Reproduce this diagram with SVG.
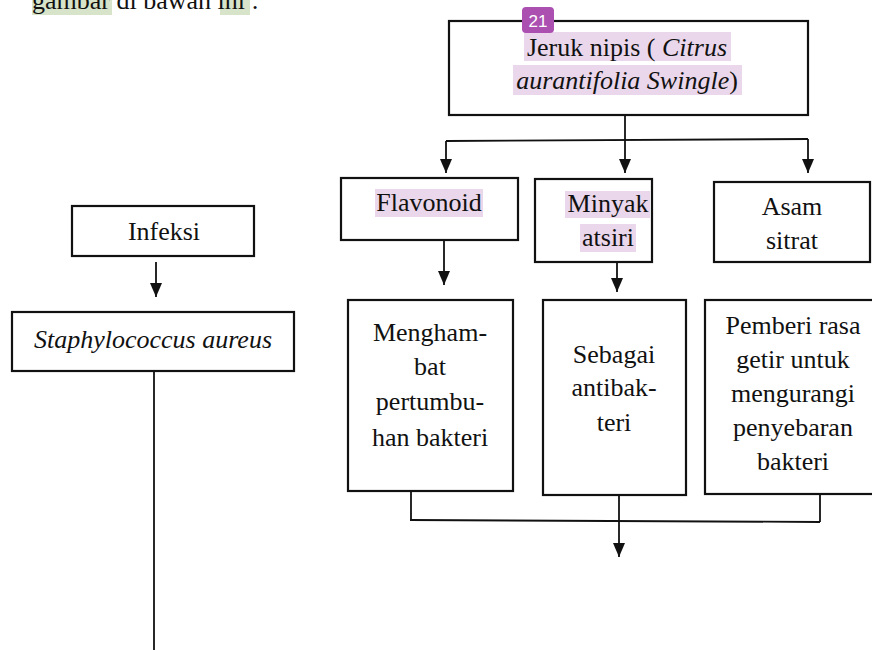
<svg xmlns="http://www.w3.org/2000/svg" width="872" height="650" viewBox="0 0 872 650" font-family="'Liberation Serif', 'Times New Roman', Times, serif">
<style>
text{font-family:"Liberation Serif","Times New Roman",Times,serif;font-size:26px;fill:#111;}
.c{text-anchor:middle}
.it{font-style:italic}
.box{fill:#fff;stroke:#111;stroke-width:2.2}
.ln{fill:none;stroke:#111;stroke-width:1.8}
.hp{fill:#ead7eb}
.hg{fill:#d8e4c9}
</style>
<defs>
<marker id="ah" markerWidth="14" markerHeight="12" refX="14" refY="6" orient="auto" markerUnits="userSpaceOnUse" viewBox="0 0 14 12">
<path d="M0,0 L14,6 L0,12 Z" fill="#111"/>
</marker>
</defs>
<g id="intro">
<rect class="hg" x="32" y="0" width="80" height="15"/>
<rect class="hg" x="220" y="0" width="30" height="15"/>
<text x="32" y="9" font-family="'Liberation Serif', serif">gambar di bawah ini :</text>
</g>
<g id="connectors">
<line class="ln" x1="625" y1="115" x2="625" y2="140"/>
<line class="ln" x1="446" y1="141" x2="808" y2="139"/>
<line class="ln" x1="446" y1="141" x2="446" y2="173" marker-end="url(#ah)"/>
<line class="ln" x1="625" y1="140" x2="625" y2="173" marker-end="url(#ah)"/>
<line class="ln" x1="808" y1="139" x2="808" y2="173" marker-end="url(#ah)"/>
<line class="ln" x1="444" y1="240" x2="444" y2="285" marker-end="url(#ah)"/>
<line class="ln" x1="617" y1="262" x2="617" y2="292" marker-end="url(#ah)"/>
<line class="ln" x1="156" y1="262" x2="156" y2="297" marker-end="url(#ah)"/>
<line class="ln" x1="154" y1="371" x2="154" y2="650"/>
<line class="ln" x1="411" y1="491" x2="411" y2="520"/>
<line class="ln" x1="410" y1="520" x2="820" y2="522"/>
<line class="ln" x1="820" y1="494" x2="820" y2="522"/>
<line class="ln" x1="619" y1="495" x2="619" y2="557" marker-end="url(#ah)"/>
</g>
<g id="jeruk">
<rect class="box" x="449" y="21" width="359" height="94"/>
<rect class="hp" x="524" y="32" width="207" height="29"/>
<rect class="hp" x="513" y="65" width="229" height="30"/>
<text class="c" x="627" y="56">Jeruk nipis ( <tspan class="it">Citrus</tspan></text>
<text class="c" x="627" y="89"><tspan class="it">aurantifolia Swingle</tspan>)</text>
</g>
<g id="badge">
<rect x="522" y="7" width="32" height="26" rx="4" fill="#ab4fb1"/>
<text class="c" x="538" y="27" style="font-family:'Liberation Sans',Arial,sans-serif;font-size:17px;fill:#fff">21</text>
</g>
<g id="flavonoid">
<rect class="box" x="341" y="178" width="177" height="62"/>
<rect class="hp" x="375" y="189" width="108" height="28"/>
<text class="c" x="429" y="211">Flavonoid</text>
</g>
<g id="minyak">
<rect class="box" x="535" y="179" width="117" height="83"/>
<rect class="hp" x="565" y="191" width="85" height="27"/>
<rect class="hp" x="580" y="224" width="56" height="28"/>
<text class="c" x="608" y="212">Minyak</text>
<text class="c" x="608" y="246">atsiri</text>
</g>
<g id="asam">
<rect class="box" x="714" y="182" width="156" height="80"/>
<text class="c" x="792" y="215">Asam</text>
<text class="c" x="792" y="249">sitrat</text>
</g>
<g id="infeksi">
<rect class="box" x="72" y="206" width="182" height="50"/>
<text class="c" x="164" y="240">Infeksi</text>
</g>
<g id="staph">
<rect class="box" x="12" y="312" width="282" height="59"/>
<text class="c it" x="153" y="348">Staphylococcus aureus</text>
</g>
<g id="menghambat">
<rect class="box" x="348" y="300" width="165" height="191"/>
<text class="c" x="430" y="341">Mengham-</text>
<text class="c" x="430" y="375">bat</text>
<text class="c" x="430" y="410">pertumbu-</text>
<text class="c" x="430" y="446">han bakteri</text>
</g>
<g id="sebagai">
<rect class="box" x="543" y="300" width="143" height="195"/>
<text class="c" x="614" y="363">Sebagai</text>
<text class="c" x="614" y="396">antibak-</text>
<text class="c" x="614" y="431">teri</text>
</g>
<g id="pemberi">
<rect class="box" x="705" y="300" width="170" height="194"/>
<text class="c" x="793" y="334">Pemberi rasa</text>
<text class="c" x="793" y="368">getir untuk</text>
<text class="c" x="793" y="402">mengurangi</text>
<text class="c" x="793" y="436">penyebaran</text>
<text class="c" x="793" y="470">bakteri</text>
</g>
</svg>
